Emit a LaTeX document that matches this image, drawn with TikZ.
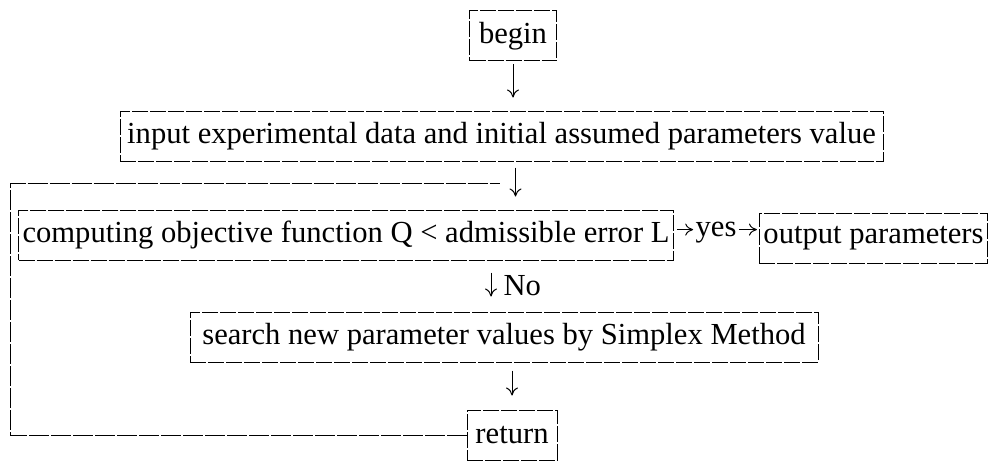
\documentclass[tikz,border=0pt]{standalone}
\usepackage{fontspec}
\setmainfont{Liberation Serif}
\usetikzlibrary{arrows.meta,positioning}

\begin{document}
\begin{tikzpicture}[x=0.5pt,y=-0.5pt,
  box/.style={draw,line width=0.5pt,dash pattern=on 8pt off 1pt,minimum height=25pt,inner xsep=2pt,inner ysep=0pt,font=\fontsize{15.3}{18}\selectfont},
  lbl/.style={font=\fontsize{15.3}{18}\selectfont,inner sep=1pt},
  arr/.style={-{To[length=4pt,width=6pt]},line width=0.5pt},
  loopline/.style={line width=0.5pt,dash pattern=on 10pt off 1pt}]
  \useasboundingbox (0,0) rectangle (988,460);
  % Start and data input
  \node[box,minimum width=43.5pt] (begin) at (513,36) {begin};
  \node[box,minimum width=381.5pt] (input) at (501.5,136) {input experimental data and initial assumed parameters value};
  \draw[arr,shorten <=1.5pt,shorten >=6.5pt] (begin.south) -- (begin.south |- input.north);
  % Objective function test
  \node[box,minimum width=321pt] (comp) at (346,235) {computing objective function Q < admissible error L};
  \draw[arr,shorten <=3pt,shorten >=6.5pt] ([xshift=7pt]input.south) -- ([xshift=7pt]input.south |- comp.north);
  \node[box,minimum width=109.5pt] (out) at (873.5,238) {output parameters};
  \node[lbl] (yes) at (716,233) {yes};
  \coordinate (yesin) at ([yshift=1.7pt]yes.west);
  \coordinate (yesout) at ([yshift=1.7pt]yes.east);
  \draw[arr,shorten <=1.5pt] (comp.east |- yesin) -- (yesin);
  \draw[arr,shorten >=1pt] (yesout) -- (yesout -| out.west);
  % Simplex search
  \node[box,minimum width=314pt] (srch) at (504,337) {search new parameter values by Simplex Method};
  \draw[arr,shorten <=6pt,shorten >=7.5pt] ([xshift=-6.5pt]srch.north |- comp.south) -- ([xshift=-6.5pt]srch.north)
    node[lbl,right=5pt,midway] (no) {No};
  \node[box,minimum width=45pt] (ret) at (512,435) {return};
  \draw[arr,shorten <=4pt,shorten >=7pt] (ret.north |- srch.south) -- (ret.north);
  % Loop back
  \coordinate (corner) at (10,183);
  \coordinate (join) at (500,183);
  \draw[loopline] (ret.west) -| (corner) -- (join);
\end{tikzpicture}
\end{document}
